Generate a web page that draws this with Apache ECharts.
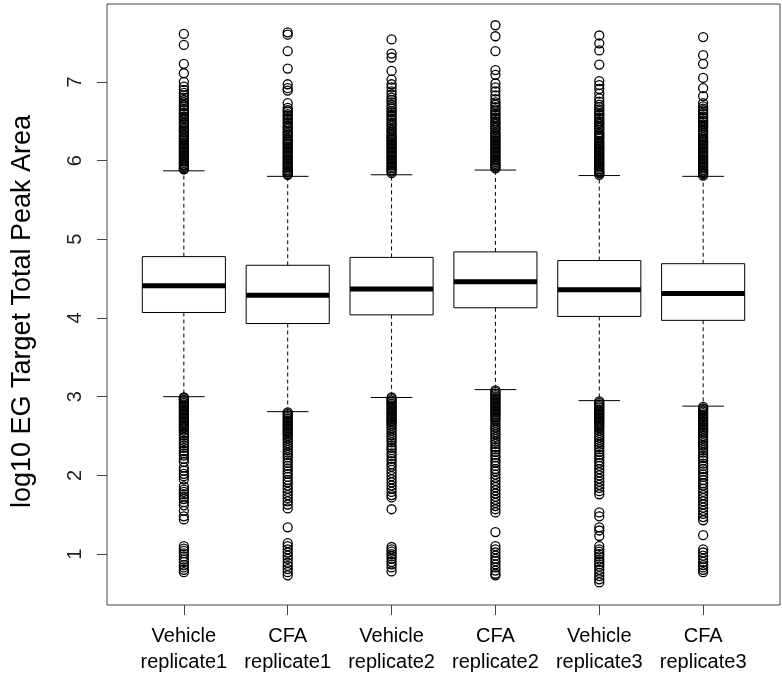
<!DOCTYPE html>
<html><head><meta charset="utf-8">
<script src="https://cdn.jsdelivr.net/npm/echarts@6/dist/echarts.min.js"></script>
<style>html,body{margin:0;padding:0;background:#fff}#c{width:782px;height:675px}</style>
</head><body><div id="c"></div>
<script>
const categories = ['Vehicle\nreplicate1','CFA\nreplicate1','Vehicle\nreplicate2','CFA\nreplicate2','Vehicle\nreplicate3','CFA\nreplicate3'];
const positions = [1,2,3,4,5,6];
const yTicks = [1,2,3,4,5,6,7];
const yTitle = 'log10 EG Target Total Peak Area';

const lowerWhisker = [3.00, 2.81, 2.99, 3.09, 2.95, 2.88];
const q1 = [4.07, 3.93, 4.04, 4.13, 4.02, 3.97];
const median = [4.41, 4.29, 4.37, 4.46, 4.36, 4.31];
const q3 = [4.78, 4.67, 4.77, 4.84, 4.73, 4.69];
const upperWhisker = [5.87, 5.80, 5.82, 5.88, 5.81, 5.80];

const outliers1 = [7.61,7.47,7.23,7.11,7.00,6.94,6.90,6.86,6.83,6.80,6.77,6.74,6.71,6.69,6.66,6.64,6.61,6.59,6.56,6.54,6.52,6.49,6.47,6.45,6.42,6.40,6.38,6.36,6.33,6.31,6.29,6.27,6.25,6.23,6.21,6.19,6.17,6.15,6.13,6.11,6.09,6.07,6.05,6.03,6.01,5.99,5.97,5.95,5.94,5.92,5.90,5.89,
  2.99,2.98,2.96,2.94,2.92,2.90,2.88,2.86,2.84,2.82,2.80,2.78,2.76,2.74,2.72,2.70,2.68,2.66,2.64,2.62,2.60,2.57,2.54,2.51,2.48,2.44,2.41,2.38,2.35,2.31,2.28,2.25,2.21,2.17,2.10,2.06,2.02,1.99,1.95,1.86,1.82,1.79,1.76,1.73,1.70,1.66,1.62,1.55,1.48,1.44,1.10,1.07,1.04,1.01,0.97,0.93,0.90,0.86,0.83,0.80,0.77];
const outliers2 = [7.63,7.60,7.39,7.17,6.97,6.92,6.89,6.73,6.67,6.64,6.62,6.59,6.57,6.54,6.52,6.49,6.47,6.44,6.42,6.40,6.37,6.35,6.33,6.31,6.28,6.26,6.24,6.22,6.20,6.18,6.16,6.14,6.12,6.10,6.08,6.06,6.04,6.02,6.00,5.98,5.96,5.94,5.92,5.90,5.88,5.86,5.85,5.83,5.82,
  2.80,2.78,2.76,2.74,2.72,2.70,2.68,2.66,2.64,2.62,2.60,2.58,2.56,2.54,2.52,2.50,2.47,2.44,2.41,2.38,2.35,2.32,2.29,2.26,2.23,2.19,2.16,2.12,2.09,2.05,2.02,1.98,1.94,1.91,1.87,1.83,1.79,1.75,1.71,1.67,1.63,1.58,1.34,1.14,1.10,1.06,1.02,0.98,0.94,0.89,0.85,0.81,0.77,0.73];
const outliers3 = [7.54,7.36,7.31,7.14,7.03,6.97,6.93,6.88,6.84,6.80,6.77,6.74,6.71,6.68,6.66,6.63,6.61,6.58,6.56,6.53,6.51,6.48,6.46,6.44,6.41,6.39,6.37,6.34,6.32,6.30,6.28,6.26,6.24,6.22,6.20,6.18,6.16,6.14,6.12,6.10,6.08,6.06,6.04,6.02,6.00,5.98,5.96,5.94,5.92,5.90,5.88,5.86,5.84,
  2.99,2.97,2.95,2.93,2.91,2.89,2.87,2.85,2.83,2.81,2.79,2.77,2.75,2.73,2.71,2.69,2.67,2.65,2.63,2.60,2.57,2.54,2.51,2.48,2.45,2.42,2.38,2.35,2.32,2.28,2.25,2.21,2.18,2.14,2.11,2.07,2.03,1.99,1.95,1.91,1.87,1.83,1.79,1.75,1.72,1.57,1.09,1.06,1.03,1.00,0.97,0.94,0.90,0.87,0.83,0.78];
const outliers4 = [7.72,7.58,7.39,7.15,7.09,6.98,6.93,6.88,6.83,6.78,6.74,6.71,6.68,6.65,6.63,6.60,6.58,6.55,6.53,6.50,6.48,6.46,6.43,6.41,6.39,6.36,6.34,6.32,6.30,6.28,6.26,6.24,6.22,6.20,6.18,6.16,6.14,6.12,6.10,6.08,6.06,6.04,6.02,6.00,5.98,5.96,5.94,5.93,5.91,5.90,
  3.08,3.06,3.04,3.02,3.00,2.98,2.96,2.94,2.92,2.90,2.88,2.86,2.84,2.82,2.80,2.78,2.76,2.74,2.72,2.70,2.67,2.64,2.61,2.58,2.55,2.52,2.49,2.46,2.43,2.40,2.36,2.33,2.30,2.26,2.23,2.19,2.16,2.12,2.08,2.05,2.01,1.97,1.93,1.89,1.85,1.81,1.77,1.73,1.69,1.65,1.61,1.57,1.53,1.28,1.10,1.06,1.02,0.98,0.94,0.91,0.87,0.83,0.79,0.75,0.73];
const outliers5 = [7.59,7.49,7.40,7.22,7.01,6.96,6.91,6.85,6.79,6.75,6.71,6.68,6.65,6.63,6.60,6.58,6.55,6.53,6.50,6.48,6.46,6.43,6.41,6.39,6.36,6.34,6.32,6.30,6.28,6.25,6.23,6.21,6.19,6.17,6.15,6.13,6.11,6.09,6.07,6.05,6.03,6.01,5.99,5.97,5.95,5.93,5.91,5.89,5.87,5.85,5.84,5.82,
  2.94,2.92,2.90,2.88,2.86,2.84,2.82,2.80,2.78,2.76,2.74,2.72,2.70,2.68,2.66,2.64,2.62,2.60,2.57,2.54,2.51,2.48,2.45,2.42,2.39,2.36,2.33,2.30,2.26,2.23,2.19,2.16,2.12,2.08,2.04,2.00,1.96,1.92,1.88,1.84,1.80,1.76,1.53,1.48,1.34,1.30,1.23,1.10,1.06,1.03,1.00,0.97,0.93,0.90,0.87,0.84,0.80,0.76,0.72,0.68,0.64];
const outliers6 = [7.57,7.34,7.23,7.05,6.92,6.82,6.73,6.69,6.66,6.64,6.61,6.59,6.56,6.54,6.51,6.49,6.46,6.44,6.42,6.39,6.37,6.35,6.33,6.30,6.28,6.26,6.24,6.22,6.20,6.18,6.16,6.14,6.12,6.10,6.08,6.06,6.04,6.02,6.00,5.98,5.96,5.94,5.92,5.90,5.88,5.86,5.84,5.83,5.81,
  2.87,2.85,2.83,2.81,2.79,2.77,2.75,2.73,2.71,2.69,2.67,2.65,2.63,2.61,2.59,2.57,2.55,2.53,2.50,2.47,2.44,2.41,2.38,2.35,2.32,2.29,2.25,2.22,2.19,2.15,2.12,2.08,2.05,2.01,1.98,1.94,1.90,1.87,1.83,1.79,1.75,1.71,1.67,1.63,1.59,1.55,1.51,1.47,1.43,1.24,1.06,1.02,0.98,0.94,0.90,0.86,0.83,0.80,0.77];

const outlierLists = [outliers1, outliers2, outliers3, outliers4, outliers5, outliers6];

const boxData = positions.map((p, i) => [p, lowerWhisker[i], q1[i], median[i], q3[i], upperWhisker[i]]);
const outlierData = [];
outlierLists.forEach((list, i) => list.forEach(v => outlierData.push([positions[i], v])));

const chart = echarts.init(document.getElementById('c'), null, {renderer: 'canvas'});
const FONT = '"Liberation Sans", Arial, sans-serif';
chart.setOption({
  animation: false,
  backgroundColor: '#fff',
  grid: {left: 107, top: 4, width: 673, height: 602, show: true, borderColor: '#444', borderWidth: 1, backgroundColor: 'transparent'},
  xAxis: {
    type: 'value', min: 0.26, max: 6.74,
    splitLine: {show: false},
    axisLine: {show: false},
    axisTick: {show: true, customValues: positions, length: 10, lineStyle: {color: '#444'}},
    axisLabel: {customValues: positions, formatter: v => categories[Math.round(v) - 1], color: '#000', fontFamily: FONT, fontSize: 20, lineHeight: 26, margin: 18}
  },
  yAxis: {
    type: 'value', min: 0.353, max: 7.99,
    splitLine: {show: false},
    axisLine: {show: false},
    axisTick: {show: true, customValues: yTicks, length: 10, lineStyle: {color: '#444'}},
    axisLabel: {customValues: yTicks, rotate: 90, color: '#222', fontFamily: FONT, fontSize: 20, margin: 22},
    name: yTitle, nameLocation: 'middle', nameRotate: 90, nameGap: 71,
    nameTextStyle: {color: '#000', fontFamily: FONT, fontSize: 27, padding: [0, 14, 0, 0]}
  },
  series: [
    {
      type: 'custom',
      silent: true,
      data: boxData,
      encode: {x: 0, y: [1, 2, 3, 4, 5]},
      renderItem: function (params, api) {
        const x = api.value(0);
        const c = api.coord([x, api.value(3)]);
        const cx = c[0], ymd = c[1];
        const ylw = api.coord([x, api.value(1)])[1];
        const yq1 = api.coord([x, api.value(2)])[1];
        const yq3 = api.coord([x, api.value(4)])[1];
        const yuw = api.coord([x, api.value(5)])[1];
        const halfW = api.size([0.8, 0])[0] / 2;
        const capW = halfW / 2;
        const dash = {stroke: '#000', lineWidth: 1, lineDash: [4, 3]};
        const solid = {stroke: '#000', lineWidth: 1};
        return {type: 'group', children: [
          {type: 'line', shape: {x1: cx, y1: yq3, x2: cx, y2: yuw}, style: dash},
          {type: 'line', shape: {x1: cx, y1: yq1, x2: cx, y2: ylw}, style: dash},
          {type: 'line', shape: {x1: cx - capW, y1: yuw, x2: cx + capW, y2: yuw}, style: solid},
          {type: 'line', shape: {x1: cx - capW, y1: ylw, x2: cx + capW, y2: ylw}, style: solid},
          {type: 'rect', shape: {x: cx - halfW, y: yq3, width: 2 * halfW, height: yq1 - yq3}, style: {fill: '#fff', stroke: '#000', lineWidth: 1}},
          {type: 'line', shape: {x1: cx - halfW, y1: ymd, x2: cx + halfW, y2: ymd}, style: {stroke: '#000', lineWidth: 5}}
        ]};
      }
    },
    {
      type: 'scatter',
      silent: true,
      data: outlierData,
      symbol: 'circle',
      symbolSize: 9,
      itemStyle: {color: 'rgba(0,0,0,0)', borderColor: '#000', borderWidth: 1.3, opacity: 1}
    }
  ]
});
</script>
</body></html>
